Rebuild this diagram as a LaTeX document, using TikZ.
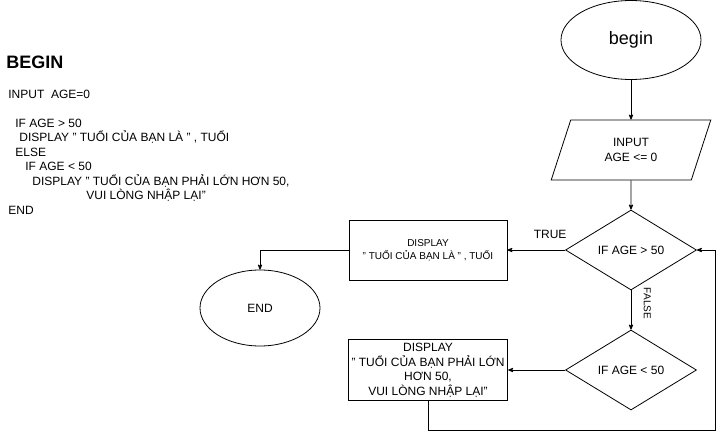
\documentclass[tikz,border=0pt]{standalone}
\usepackage{fontspec}
\setmainfont{Liberation Sans}
\usepackage{tikz}
\usetikzlibrary{arrows,shapes.geometric,positioning}

\begin{document}
\begin{tikzpicture}[x=1pt,y=-1pt,->,>=stealth',shorten >=0pt,auto,node distance=110pt,
				line width=0.8pt,font=\fontsize{12}{14.5}\selectfont,
				term node/.style={ellipse,draw,minimum width=140pt,minimum height=79pt},
				io node/.style={trapezium,trapezium left angle=72,trapezium right angle=108,draw,
					minimum width=121pt,minimum height=60pt,align=center},
				test node/.style={diamond,draw,aspect=1.6,minimum width=131pt,minimum height=80pt,inner sep=0pt},
				show node/.style={rectangle,draw,minimum width=158pt,minimum height=60pt,align=center}]
				
				\useasboundingbox (0,0) rectangle (724,439);
				
				% pseudo code
				\node[anchor=west,inner sep=0pt,font=\fontsize{18}{20}\selectfont\bfseries] (title) at (6,62) {BEGIN};
				\node[anchor=north west,inner sep=0pt,align=left] (code) at (8,89.5) {INPUT\ \ AGE=0\\[14.5pt]
					\hspace*{7pt}IF AGE > 50\\
					\hspace*{11pt}DISPLAY " TUỔI CỦA BẠN LÀ " , TUỔI\\
					\hspace*{7pt}ELSE\\
					\hspace*{17pt}IF AGE < 50\\
					\hspace*{24pt}DISPLAY " TUỔI CỦA BẠN PHẢI LỚN HƠN 50,\\
					\hspace*{78pt}VUI LÒNG NHẬP LẠI"\\
					END};
				
				% flow chart
				\node[term node,font=\fontsize{18}{20}\selectfont] (begin) at (631,40) {begin};
				\node[io node] (input) [below of=begin] {INPUT\\AGE <= 0};
				\node[test node] (ifgt) [below of=input,node distance=100pt] {IF AGE > 50};
				\node[show node,font=\fontsize{10}{13}\selectfont] (showgt) [left of=ifgt,node distance=203pt] {DISPLAY\\" TUỔI CỦA BẠN LÀ " , TUỔI};
				\node[term node,minimum width=120pt,minimum height=76pt] (end) at (260,308) {END};
				\node[test node] (iflt) [below of=ifgt,node distance=120pt] {IF AGE < 50};
				\node[show node] (showlt) [left of=iflt,node distance=203pt] {DISPLAY\\" TUỔI CỦA BẠN PHẢI LỚN\\HƠN 50,\hspace*{100pt}\\VUI LÒNG NHẬP LẠI"};
				\coordinate (loop) at (715,430);
				
				\path (begin) edge (input)
				(input) edge (ifgt)
				(ifgt) edge node[swap,above=8pt,pos=0.26] {TRUE} (showgt)
				(ifgt) edge node[pos=0.33,xshift=9pt,rotate=-90,anchor=south,font=\fontsize{10}{12}\selectfont] {FALSE} (iflt)
				(iflt) edge (showlt);
				
				\draw (showgt.west) -| (end.north);
				\draw (showlt.south) |- (loop) |- (ifgt.east);
				
				\end{tikzpicture}
\end{document}
